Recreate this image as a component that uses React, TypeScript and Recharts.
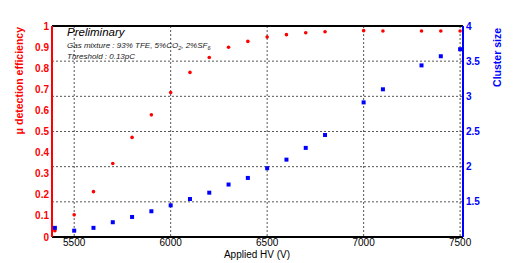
import { ComposedChart, Scatter, XAxis, YAxis, CartesianGrid, ReferenceLine } from "recharts";

// applied HV (V) and the two measured quantities
const HV = [5400, 5500, 5600, 5700, 5800, 5900, 6000, 6100, 6200, 6300, 6400, 6500, 6600, 6700, 6800, 7000, 7100, 7300, 7400, 7500];
const EFFICIENCY = [0.03, 0.105, 0.215, 0.348, 0.472, 0.579, 0.685, 0.78, 0.851, 0.899, 0.927, 0.948, 0.959, 0.968, 0.973, 0.978, 0.976, 0.976, 0.976, 0.976];
const CLUSTER_SIZE = [1.13, 1.09, 1.13, 1.21, 1.285, 1.366, 1.45, 1.54, 1.63, 1.746, 1.84, 1.978, 2.1, 2.267, 2.45, 2.914, 3.1, 3.44, 3.57, 3.67];

const X_TICKS = [5500, 6000, 6500, 7000, 7500];
const EFF_TICKS = [0, 0.1, 0.2, 0.3, 0.4, 0.5, 0.6, 0.7, 0.8, 0.9, 1];
const CS_TICKS = [1.5, 2, 2.5, 3, 3.5, 4];

const steps = (a: number, b: number, s: number) => {
  const out: number[] = [];
  for (let v = a; v <= b + s / 2; v += s) out.push(+v.toFixed(4));
  return out;
};
const X_MINOR = steps(5400, 7500, 100);
const EFF_MINOR = steps(0, 1, 0.02);
const CS_MINOR = steps(1, 4, 0.05);

const rows = HV.map((hv, i) => ({ hv, eff: EFFICIENCY[i], cs: CLUSTER_SIZE[i] }));

const RED = "#ff0000";
const BLUE = "#0000ff";
const FONT = "'Liberation Sans', Arial, Helvetica, sans-serif";

const RedDot = (p: any) => <circle cx={p.cx} cy={p.cy} r={1.8} fill={RED} />;
const BlueSquare = (p: any) => <rect x={p.cx - 2} y={p.cy - 2} width={4} height={4} fill={BLUE} />;

export default function App() {
  return (
    <div style={{ position: "absolute", left: 0, top: 0, width: 515, height: 263, background: "#fff", fontFamily: FONT }}>
      <ComposedChart width={515} height={263} margin={{ top: 26, right: 12, left: 12, bottom: 6 }}>
        <CartesianGrid xAxisId="x" yAxisId="cs" stroke="#555" strokeDasharray="2 2" />
        <XAxis
          xAxisId="x"
          dataKey="hv"
          type="number"
          domain={[5385, 7515]}
          allowDataOverflow
          ticks={X_TICKS}
          tickLine={false}
          tickSize={0}
          tickMargin={2}
          height={20}
          axisLine={{ stroke: "#000", strokeWidth: 2 }}
          tick={{ fontSize: 10, fill: "#000", fontFamily: FONT }}
        />
        <XAxis xAxisId="xMaj" type="number" domain={[5385, 7515]} allowDataOverflow ticks={X_TICKS} mirror height={0} tick={false} tickSize={6} axisLine={false} tickLine={{ stroke: "#000" }} />
        <XAxis xAxisId="xMin" type="number" domain={[5385, 7515]} allowDataOverflow ticks={X_MINOR} mirror height={0} tick={false} tickSize={3} axisLine={false} tickLine={{ stroke: "#000" }} />

        <YAxis
          yAxisId="eff"
          type="number"
          domain={[0, 1]}
          allowDataOverflow
          ticks={EFF_TICKS}
          width={40}
          tickLine={false}
          tickSize={0}
          tickMargin={3}
          axisLine={{ stroke: RED, strokeWidth: 2 }}
          tick={{ fontSize: 10, fill: RED, fontWeight: "bold", fontFamily: FONT }}
        />
        <YAxis yAxisId="effMaj" type="number" domain={[0, 1]} allowDataOverflow ticks={EFF_TICKS} mirror width={0} tick={false} tickSize={12} axisLine={false} tickLine={{ stroke: RED }} />
        <YAxis yAxisId="effMin" type="number" domain={[0, 1]} allowDataOverflow ticks={EFF_MINOR} mirror width={0} tick={false} tickSize={6} axisLine={false} tickLine={{ stroke: RED }} />

        <YAxis
          yAxisId="cs"
          orientation="right"
          type="number"
          domain={[1, 4]}
          allowDataOverflow
          ticks={CS_TICKS}
          width={40}
          tickLine={false}
          tickSize={0}
          tickMargin={3}
          axisLine={{ stroke: BLUE, strokeWidth: 2 }}
          tick={{ fontSize: 10, fill: BLUE, fontWeight: "bold", fontFamily: FONT }}
        />
        <YAxis yAxisId="csMaj" orientation="right" type="number" domain={[1, 4]} allowDataOverflow ticks={CS_TICKS} mirror width={0} tick={false} tickSize={12} axisLine={false} tickLine={{ stroke: BLUE }} />
        <YAxis yAxisId="csMin" orientation="right" type="number" domain={[1, 4]} allowDataOverflow ticks={CS_MINOR} mirror width={0} tick={false} tickSize={5} axisLine={false} tickLine={{ stroke: BLUE }} />

        <ReferenceLine xAxisId="x" yAxisId="eff" y={1} stroke="#000" strokeWidth={2} />

        <Scatter data={rows} xAxisId="x" yAxisId="eff" dataKey="eff" shape={RedDot} isAnimationActive={false} />
        <Scatter data={rows} xAxisId="x" yAxisId="cs" dataKey="cs" shape={BlueSquare} isAnimationActive={false} />
      </ComposedChart>

      <svg width={515} height={263} style={{ position: "absolute", left: 0, top: 0, pointerEvents: "none" }} fontFamily={FONT}>
        <text x={67} y={36} fontSize={11.5} fontStyle="italic" fill="#000">Preliminary</text>
        <text x={67} y={48} fontSize={8} fontStyle="italic" fill="#222">
          Gas mixture : 93% TFE, 5%CO<tspan fontSize={5.5} dy={2}>2</tspan>
          <tspan dy={-2}>, 2%SF</tspan>
          <tspan fontSize={5.5} dy={2}>6</tspan>
        </text>
        <text x={67} y={59} fontSize={8} fontStyle="italic" fill="#222">Threshold : 0.13pC</text>
        <text x={257} y={258} fontSize={10} textAnchor="middle" fill="#000">Applied HV (V)</text>
        <text transform="translate(23,27) rotate(-90)" fontSize={10.5} fontWeight="bold" textAnchor="end" fill={RED}>μ detection efficiency</text>
        <text transform="translate(501,28) rotate(-90)" fontSize={10.5} fontWeight="bold" textAnchor="end" fill={BLUE}>Cluster size</text>
      </svg>
    </div>
  );
}
